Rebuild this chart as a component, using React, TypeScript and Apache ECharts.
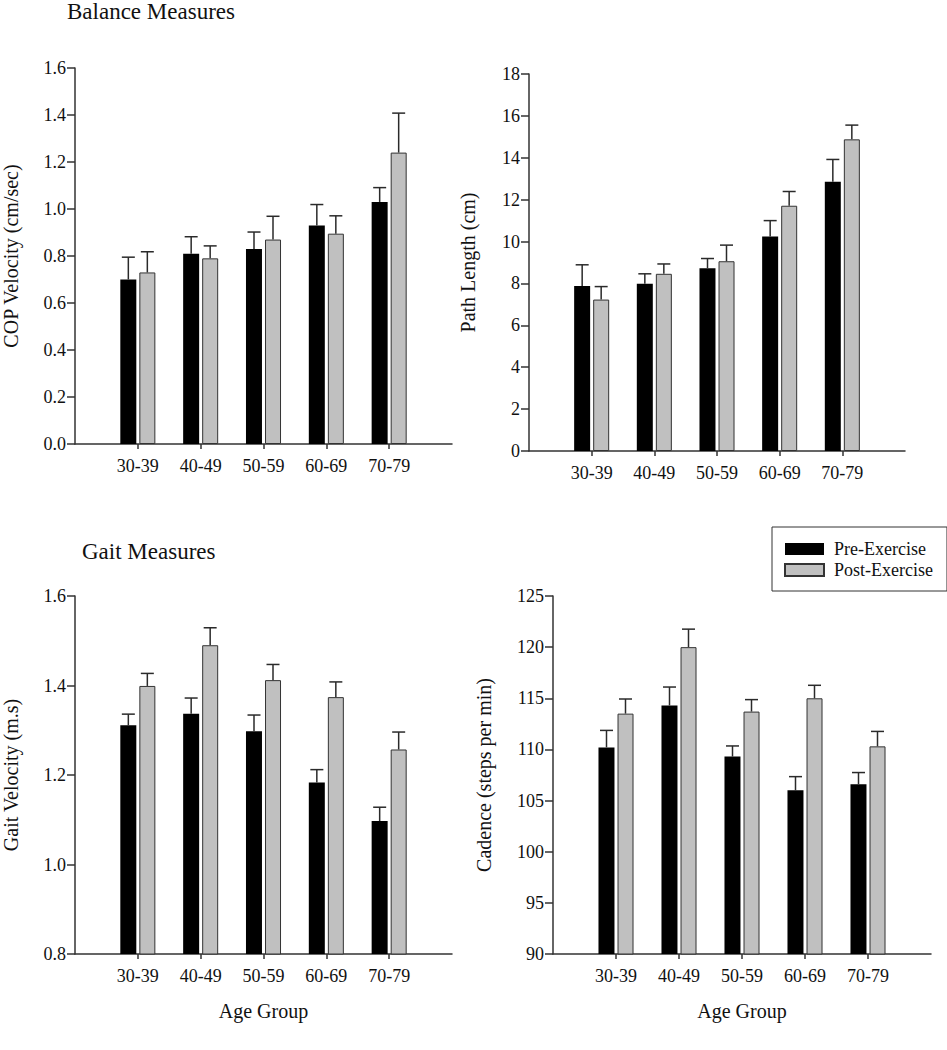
import React, { useEffect, useRef } from "react";
import * as echarts from "echarts";

const CATEGORIES = ["30-39", "40-49", "50-59", "60-69", "70-79"];
const AXIS_CATS = ["", ...CATEGORIES, ""];

const COP_PRE = [0.70, 0.81, 0.83, 0.93, 1.03];
const COP_PRE_ERR = [0.095, 0.072, 0.072, 0.089, 0.061];
const COP_POST = [0.73, 0.79, 0.87, 0.895, 1.24];
const COP_POST_ERR = [0.088, 0.053, 0.099, 0.076, 0.168];

const PATH_PRE = [7.88, 7.98, 8.73, 10.24, 12.85];
const PATH_PRE_ERR = [1.01, 0.48, 0.46, 0.76, 1.07];
const PATH_POST = [7.23, 8.46, 9.06, 11.71, 14.88];
const PATH_POST_ERR = [0.62, 0.47, 0.77, 0.68, 0.68];

const GAIT_PRE = [1.311, 1.337, 1.298, 1.183, 1.097];
const GAIT_PRE_ERR = [0.025, 0.035, 0.036, 0.029, 0.031];
const GAIT_POST = [1.399, 1.49, 1.412, 1.374, 1.257];
const GAIT_POST_ERR = [0.028, 0.039, 0.035, 0.034, 0.039];

const CAD_PRE = [110.2, 114.3, 109.3, 106.0, 106.6];
const CAD_PRE_ERR = [1.66, 1.8, 1.04, 1.34, 1.14];
const CAD_POST = [113.5, 120.0, 113.7, 115.0, 110.3];
const CAD_POST_ERR = [1.43, 1.76, 1.17, 1.27, 1.46];

const FONT = "'Liberation Serif', 'Times New Roman', serif";
const INK = "#111";
const AXIS_COLOR = "#333";

function pad(vals: number[]) {
  return ["-", ...vals, "-"];
}

function barSeries(name: string, idx: number, vals: number[], pre: boolean) {
  return {
    type: "bar",
    name,
    xAxisIndex: idx,
    yAxisIndex: idx,
    data: pad(vals),
    barWidth: 16,
    barGap: "19%",
    itemStyle: pre
      ? { color: "#000", borderColor: "#000", borderWidth: 0 }
      : { color: "#c0c0c0", borderColor: "#333", borderWidth: 1 },
    z: 2,
  };
}

function errSeries(name: string, idx: number, means: number[], errs: number[], offset: number) {
  return {
    type: "custom",
    name,
    xAxisIndex: idx,
    yAxisIndex: idx,
    silent: true,
    z: 3,
    data: means.map((m, i) => [i + 1, m, m + errs[i]]),
    renderItem: (_p: any, api: any) => {
      const base = api.coord([api.value(0), api.value(1)]);
      const top = api.coord([api.value(0), api.value(2)]);
      const x = base[0] + offset;
      const half = 6.5;
      const st = { stroke: "#2a2a2a", lineWidth: 1.5 };
      return {
        type: "group",
        children: [
          { type: "line", shape: { x1: x, y1: base[1], x2: x, y2: top[1] }, style: st },
          { type: "line", shape: { x1: x - half, y1: top[1], x2: x + half, y2: top[1] }, style: st },
        ],
      };
    },
  };
}

function xAxis(idx: number, withName: boolean) {
  return {
    type: "category",
    gridIndex: idx,
    data: AXIS_CATS,
    boundaryGap: false,
    axisLine: { lineStyle: { color: AXIS_COLOR, width: 1.5 } },
    axisTick: {
      length: 5,
      interval: (i: number) => i > 0 && i < AXIS_CATS.length - 1,
      lineStyle: { color: AXIS_COLOR, width: 1.5 },
    },
    axisLabel: { interval: 0, margin: 13, fontSize: 18, fontFamily: FONT, color: INK },
    name: withName ? "Age Group" : "",
    nameLocation: "middle",
    nameGap: 47,
    nameTextStyle: { fontSize: 20, fontFamily: FONT, color: INK },
    splitLine: { show: false },
  };
}

function yAxis(idx: number, name: string, min: number, max: number, interval: number, digits: number, gap: number) {
  return {
    type: "value",
    gridIndex: idx,
    min,
    max,
    interval,
    name,
    nameLocation: "middle",
    nameGap: gap,
    nameTextStyle: { fontSize: 20, fontFamily: FONT, color: INK },
    axisLine: { show: true, lineStyle: { color: AXIS_COLOR, width: 1.5 } },
    axisTick: { show: true, length: 8, lineStyle: { color: AXIS_COLOR, width: 1.5 } },
    axisLabel: {
      margin: 9,
      fontSize: 18,
      fontFamily: FONT,
      color: INK,
      formatter: (v: number) => v.toFixed(digits),
    },
    splitLine: { show: false },
  };
}

export default function App() {
  const ref = useRef<HTMLDivElement>(null);
  useEffect(() => {
    if (!ref.current) return;
    const chart = echarts.init(ref.current, undefined, { renderer: "svg" });
    const option: any = {
      animation: false,
      backgroundColor: "#fff",
      textStyle: { fontFamily: FONT, color: INK },
      title: [
        {
          text: "Balance Measures",
          left: 67,
          top: 0,
          padding: 0,
          textStyle: { fontSize: 23, fontWeight: "normal", fontFamily: FONT, color: INK },
        },
        {
          text: "Gait Measures",
          left: 82,
          top: 540,
          padding: 0,
          textStyle: { fontSize: 23, fontWeight: "normal", fontFamily: FONT, color: INK },
        },
      ],
      legend: {
        data: ["Pre-Exercise", "Post-Exercise"],
        orient: "vertical",
        left: 772,
        top: 527,
        itemWidth: 39,
        itemHeight: 12,
        itemGap: 3,
        padding: [13, 14, 12, 12],
        borderColor: "#333",
        borderWidth: 1,
        icon: "rect",
        selectedMode: false,
        textStyle: { fontSize: 18, fontFamily: FONT, color: INK, padding: [0, 0, 0, 5] },
      },
      grid: [
        { left: 75, top: 68, width: 377, height: 376 },
        { left: 529, top: 74, width: 376, height: 377 },
        { left: 75, top: 596, width: 377, height: 358 },
        { left: 553, top: 596, width: 378, height: 358 },
      ],
      xAxis: [xAxis(0, false), xAxis(1, false), xAxis(2, true), xAxis(3, true)],
      yAxis: [
        yAxis(0, "COP Velocity (cm/sec)", 0, 1.6, 0.2, 1, 54),
        yAxis(1, "Path Length (cm)", 0, 18, 2, 0, 51),
        yAxis(2, "Gait Velocity (m.s)", 0.8, 1.6, 0.2, 1, 54),
        yAxis(3, "Cadence (steps per min)", 90, 125, 5, 0, 59),
      ],
      series: [
        barSeries("Pre-Exercise", 0, COP_PRE, true),
        barSeries("Post-Exercise", 0, COP_POST, false),
        errSeries("COP pre error", 0, COP_PRE, COP_PRE_ERR, -9.5),
        errSeries("COP post error", 0, COP_POST, COP_POST_ERR, 9.5),
        barSeries("Pre-Exercise", 1, PATH_PRE, true),
        barSeries("Post-Exercise", 1, PATH_POST, false),
        errSeries("Path pre error", 1, PATH_PRE, PATH_PRE_ERR, -9.5),
        errSeries("Path post error", 1, PATH_POST, PATH_POST_ERR, 9.5),
        barSeries("Pre-Exercise", 2, GAIT_PRE, true),
        barSeries("Post-Exercise", 2, GAIT_POST, false),
        errSeries("Gait pre error", 2, GAIT_PRE, GAIT_PRE_ERR, -9.5),
        errSeries("Gait post error", 2, GAIT_POST, GAIT_POST_ERR, 9.5),
        barSeries("Pre-Exercise", 3, CAD_PRE, true),
        barSeries("Post-Exercise", 3, CAD_POST, false),
        errSeries("Cadence pre error", 3, CAD_PRE, CAD_PRE_ERR, -9.5),
        errSeries("Cadence post error", 3, CAD_POST, CAD_POST_ERR, 9.5),
      ],
    };
    chart.setOption(option);
    return () => chart.dispose();
  }, []);
  return (
    <div
      ref={ref}
      style={{ position: "fixed", left: 0, top: 0, width: 947, height: 1050, background: "#fff" }}
    />
  );
}
